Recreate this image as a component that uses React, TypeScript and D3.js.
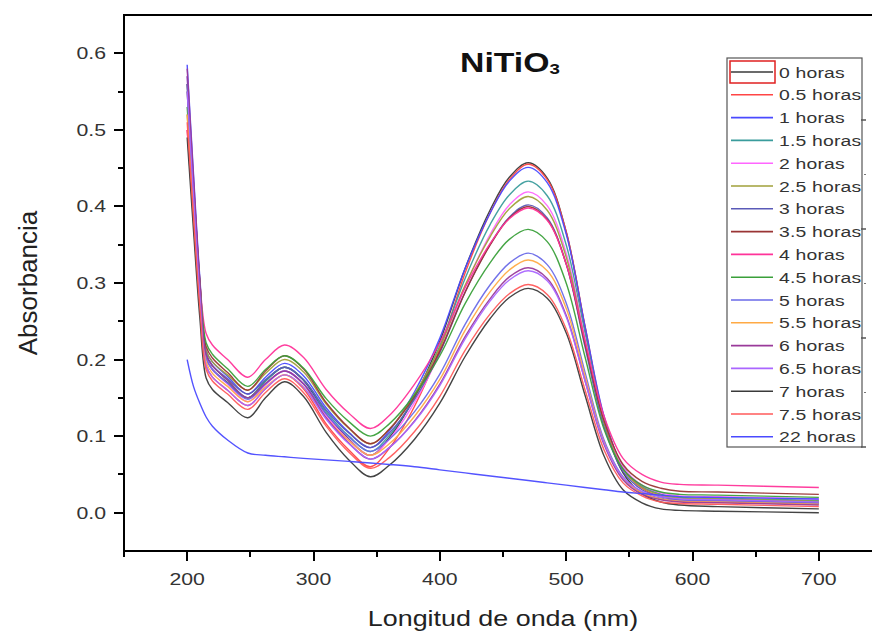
import React from 'react';
import * as d3 from 'd3';

// ---------- data ----------
const wavelengths = [200, 205, 210, 215, 220, 232, 248, 262, 277, 292, 310, 328, 345, 360, 380, 400, 420, 440, 455, 470, 485, 500, 515, 530, 545, 560, 575, 590, 620, 700];

const seriesNames = ['0 horas', '0.5 horas', '1 horas', '1.5 horas', '2 horas', '2.5 horas', '3 horas', '3.5 horas', '4 horas', '4.5 horas', '5 horas', '5.5 horas', '6 horas', '6.5 horas', '7 horas', '7.5 horas', '22 horas'];
const seriesColors = ['#3a3a3a', '#ff4545', '#4a4aff', '#3a9c9c', '#ff66ff', '#a0a03a', '#5a5ab8', '#9a3535', '#ff3399', '#3aa03a', '#6a6ae8', '#ffaa44', '#9a3a9a', '#aa66ff', '#3a3a3a', '#ff5a5a', '#4a4aff'];

const h0 = [0.55, 0.417, 0.291, 0.202, 0.187, 0.17, 0.15, 0.172, 0.19, 0.173, 0.129, 0.096, 0.075, 0.098, 0.151, 0.224, 0.319, 0.396, 0.438, 0.457, 0.437, 0.367, 0.241, 0.12, 0.052, 0.025, 0.014, 0.01, 0.008, 0.005];
const h05 = [0.5, 0.382, 0.27, 0.192, 0.177, 0.16, 0.14, 0.162, 0.18, 0.162, 0.116, 0.082, 0.06, 0.084, 0.139, 0.214, 0.313, 0.392, 0.435, 0.455, 0.435, 0.367, 0.243, 0.124, 0.058, 0.032, 0.021, 0.017, 0.015, 0.012];
const h1 = [0.585, 0.443, 0.308, 0.212, 0.197, 0.178, 0.155, 0.177, 0.195, 0.179, 0.137, 0.105, 0.085, 0.107, 0.158, 0.228, 0.319, 0.392, 0.433, 0.451, 0.431, 0.364, 0.243, 0.126, 0.06, 0.034, 0.024, 0.02, 0.018, 0.015];
const h15 = [0.56, 0.425, 0.297, 0.207, 0.192, 0.173, 0.15, 0.172, 0.19, 0.174, 0.132, 0.1, 0.08, 0.101, 0.151, 0.218, 0.306, 0.377, 0.415, 0.433, 0.414, 0.35, 0.234, 0.122, 0.06, 0.035, 0.024, 0.02, 0.019, 0.016];
const h2 = [0.57, 0.429, 0.296, 0.202, 0.187, 0.168, 0.145, 0.167, 0.185, 0.169, 0.127, 0.095, 0.075, 0.096, 0.144, 0.209, 0.295, 0.364, 0.402, 0.419, 0.401, 0.339, 0.227, 0.12, 0.06, 0.036, 0.026, 0.022, 0.021, 0.018];
const h25 = [0.52, 0.402, 0.29, 0.212, 0.197, 0.18, 0.16, 0.182, 0.2, 0.184, 0.142, 0.11, 0.09, 0.109, 0.155, 0.216, 0.297, 0.361, 0.397, 0.413, 0.395, 0.334, 0.223, 0.116, 0.057, 0.033, 0.023, 0.019, 0.018, 0.015];
const h3 = [0.57, 0.431, 0.3, 0.207, 0.192, 0.175, 0.155, 0.174, 0.19, 0.174, 0.134, 0.104, 0.085, 0.104, 0.148, 0.209, 0.288, 0.351, 0.386, 0.402, 0.385, 0.325, 0.216, 0.112, 0.054, 0.03, 0.021, 0.017, 0.016, 0.013];
const h35 = [0.56, 0.429, 0.304, 0.217, 0.202, 0.183, 0.16, 0.185, 0.205, 0.188, 0.144, 0.111, 0.09, 0.109, 0.152, 0.211, 0.288, 0.35, 0.385, 0.4, 0.383, 0.325, 0.22, 0.12, 0.063, 0.041, 0.032, 0.028, 0.027, 0.024];
const h4 = [0.5, 0.397, 0.3, 0.234, 0.219, 0.2, 0.177, 0.2, 0.219, 0.203, 0.161, 0.13, 0.11, 0.127, 0.168, 0.222, 0.294, 0.352, 0.384, 0.398, 0.382, 0.325, 0.224, 0.126, 0.071, 0.05, 0.04, 0.037, 0.036, 0.033];
const h45 = [0.53, 0.412, 0.3, 0.222, 0.207, 0.188, 0.165, 0.187, 0.205, 0.189, 0.149, 0.119, 0.1, 0.116, 0.154, 0.205, 0.273, 0.327, 0.357, 0.37, 0.354, 0.3, 0.203, 0.109, 0.057, 0.036, 0.027, 0.024, 0.023, 0.02];
const h5 = [0.56, 0.423, 0.294, 0.202, 0.187, 0.169, 0.148, 0.168, 0.185, 0.169, 0.129, 0.099, 0.08, 0.096, 0.132, 0.181, 0.246, 0.298, 0.326, 0.339, 0.324, 0.274, 0.183, 0.095, 0.047, 0.027, 0.019, 0.016, 0.015, 0.012];
const h55 = [0.52, 0.396, 0.279, 0.197, 0.182, 0.165, 0.145, 0.164, 0.18, 0.164, 0.124, 0.094, 0.075, 0.09, 0.126, 0.174, 0.238, 0.289, 0.317, 0.33, 0.316, 0.267, 0.178, 0.092, 0.045, 0.026, 0.018, 0.015, 0.014, 0.011];
const h6 = [0.58, 0.438, 0.303, 0.207, 0.192, 0.173, 0.15, 0.169, 0.185, 0.168, 0.124, 0.091, 0.07, 0.085, 0.12, 0.168, 0.23, 0.28, 0.308, 0.32, 0.306, 0.258, 0.172, 0.089, 0.043, 0.024, 0.017, 0.014, 0.013, 0.01];
const h65 = [0.55, 0.413, 0.284, 0.192, 0.177, 0.16, 0.14, 0.162, 0.18, 0.164, 0.122, 0.09, 0.07, 0.085, 0.119, 0.166, 0.227, 0.277, 0.304, 0.316, 0.303, 0.256, 0.172, 0.091, 0.046, 0.028, 0.021, 0.018, 0.017, 0.014];
const h7 = [0.49, 0.369, 0.255, 0.176, 0.161, 0.144, 0.124, 0.15, 0.171, 0.152, 0.105, 0.069, 0.047, 0.062, 0.096, 0.143, 0.204, 0.254, 0.281, 0.293, 0.28, 0.235, 0.153, 0.074, 0.03, 0.013, 0.005, 0.003, 0.002, 0.0];
const h75 = [0.51, 0.386, 0.269, 0.187, 0.172, 0.155, 0.135, 0.157, 0.175, 0.157, 0.113, 0.079, 0.058, 0.072, 0.106, 0.152, 0.212, 0.26, 0.286, 0.298, 0.285, 0.24, 0.16, 0.082, 0.039, 0.022, 0.014, 0.012, 0.011, 0.008];
const h22 = [0.2, 0.165, 0.143, 0.125, 0.113, 0.095, 0.078, 0.075, 0.073, 0.071, 0.069, 0.067, 0.065, 0.063, 0.06, 0.056, 0.052, 0.048, 0.045, 0.042, 0.039, 0.036, 0.033, 0.03, 0.027, 0.025, 0.023, 0.021, 0.02, 0.018];

const seriesValues = [h0, h05, h1, h15, h2, h25, h3, h35, h4, h45, h5, h55, h6, h65, h7, h75, h22];

const xMajorTicks = [200, 300, 400, 500, 600, 700];
const xMinorTicks = [150, 250, 350, 450, 550, 650, 750];
const yMajorTicks = [0.0, 0.1, 0.2, 0.3, 0.4, 0.5, 0.6];
const yMinorTicks = [0.05, 0.15, 0.25, 0.35, 0.45, 0.55];

const titleMain = 'NiTiO';
const titleSub = '3';
const xTitle = 'Longitud de onda (nm)';
const yTitle = 'Absorbancia';

// ---------- helpers ----------
const FONT = "'Liberation Sans', Arial, Helvetica, sans-serif";
const SX = 1.25;

function SText({ x, y, children, sx = SX, rotate = 0, ...rest }: any) {
  return (
    <g transform={`translate(${x},${y}) scale(${sx},1)${rotate ? ` rotate(${rotate})` : ''}`}>
      <text x={0} y={0} fontFamily={FONT} {...rest}>{children}</text>
    </g>
  );
}

export default function App() {
  const W = 872;
  const H = 632;
  const left = 124, right = 882, top = 15, bottom = 551;

  const x = d3.scaleLinear().domain([150, 750]).range([left, right]);
  const y = d3.scaleLinear().domain([-0.05, 0.65]).range([bottom, top]);

  const line = d3
    .line<number>()
    .x((_, i) => x(wavelengths[i]))
    .y((d) => y(d))
    .curve(d3.curveCatmullRom.alpha(0.5));

  const majorLen = 10;
  const minorLen = 6;
  const axisColor = '#000';

  // legend layout
  const legX = 727, legY = 58, legW = 135, legH = 389;
  const legRow0 = 72, legStep = 22.8;

  // neighbouring panel tick marks at the right edge
  const edge = d3.scaleLinear().domain([0, 3]).range([447, 120]);
  const edgeMajor = edge.ticks(3);
  const edgeMinor = [0.5, 1.5, 2.5];

  return (
    <svg width={W} height={H} style={{ position: 'absolute', left: 0, top: 0, background: '#fff' }}>
      <rect x={0} y={0} width={W} height={H} fill="#fff" />

      {/* series */}
      <g fill="none">
        {seriesValues.map((vals, i) => (
          <path key={seriesNames[i]} d={line(vals) || ''} stroke={seriesColors[i]} strokeWidth={1.4} strokeOpacity={0.95} />
        ))}
      </g>

      {/* frame */}
      <g shapeRendering="crispEdges">
        <line x1={left} x2={right} y1={top} y2={top} stroke={axisColor} strokeWidth={2} />
        <line x1={left} x2={left} y1={top - 1} y2={bottom + 1} stroke={axisColor} strokeWidth={2} />
        <line x1={left - 1} x2={right} y1={bottom} y2={bottom} stroke={axisColor} strokeWidth={2} />

        {xMajorTicks.map((t) => (
          <line key={'xM' + t} x1={x(t)} x2={x(t)} y1={bottom} y2={bottom + majorLen} stroke={axisColor} strokeWidth={2} />
        ))}
        {xMinorTicks.map((t) => (
          <line key={'xm' + t} x1={x(t)} x2={x(t)} y1={bottom} y2={bottom + minorLen} stroke={axisColor} strokeWidth={2} />
        ))}
        {yMajorTicks.map((t) => (
          <line key={'yM' + t} x1={left - majorLen} x2={left} y1={y(t)} y2={y(t)} stroke={axisColor} strokeWidth={2} />
        ))}
        {yMinorTicks.map((t) => (
          <line key={'ym' + t} x1={left - minorLen} x2={left} y1={y(t)} y2={y(t)} stroke={axisColor} strokeWidth={2} />
        ))}
      </g>

      {xMajorTicks.map((t) => (
        <SText key={'xl' + t} x={x(t)} y={585} textAnchor="middle" fontSize={17} fill="#333">{String(t)}</SText>
      ))}
      {yMajorTicks.map((t) => (
        <SText key={'yl' + t} x={106} y={y(t) + 6} textAnchor="end" fontSize={17} fill="#333">{d3.format('.1f')(t)}</SText>
      ))}

      {/* axis titles */}
      <SText x={503} y={626} textAnchor="middle" fontSize={21.5} fill="#222">{xTitle}</SText>
      <SText x={37} y={283} rotate={-90} textAnchor="middle" fontSize={26} sx={1.0} fill="#222">{yTitle}</SText>

      {/* title */}
      <SText x={510} y={72} textAnchor="middle" fontSize={27} fontWeight="bold" fill="#111">
        {titleMain}
        <tspan fontSize={15} dy={2}>{titleSub}</tspan>
      </SText>

      {/* legend */}
      <rect x={legX} y={legY} width={legW} height={legH} fill="#fff" stroke="#555" strokeWidth={1.2} />
      {seriesNames.map((name, i) => {
        const yy = legRow0 + i * legStep;
        return (
          <g key={'leg' + name}>
            <line x1={731} x2={773} y1={yy} y2={yy} stroke={seriesColors[i]} strokeWidth={1.6} />
            <SText x={779} y={yy + 5.5} fontSize={15.5} fill="#333" letterSpacing={0.15}>{name}</SText>
          </g>
        );
      })}
      <rect x={730} y={61} width={45} height={22} fill="none" stroke="#e02020" strokeWidth={1.5} />

      {/* neighbouring panel ticks at the image edge */}
      {edgeMajor.map((t) => (
        <line key={'em' + t} x1={861} x2={866} y1={edge(t)} y2={edge(t)} stroke="#555" strokeWidth={1.5} />
      ))}
      {edgeMinor.map((t) => (
        <line key={'en' + t} x1={864} x2={866} y1={edge(t)} y2={edge(t)} stroke="#777" strokeWidth={1.2} />
      ))}
    </svg>
  );
}
